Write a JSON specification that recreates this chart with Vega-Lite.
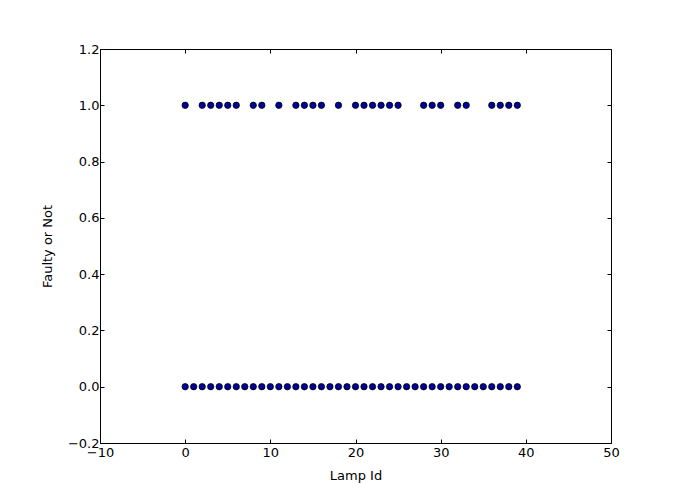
{
  "$schema": "https://vega.github.io/schema/vega-lite/v6.json",
  "width": 511,
  "height": 394,
  "autosize": {"type": "none"},
  "padding": {"left": 100, "top": 49, "right": 84, "bottom": 51},
  "background": "white",
  "config": {
    "font": "DejaVu Sans",
    "view": {"stroke": "black", "strokeWidth": 1},
    "axis": {
      "grid": false,
      "domain": false,
      "tickColor": "black",
      "tickSize": -4,
      "labelFlush": false,
      "labelOverlap": false,
      "labelFont": "DejaVu Sans",
      "labelFontSize": 13,
      "labelColor": "black",
      "titleFont": "DejaVu Sans",
      "titleFontSize": 13,
      "titleFontWeight": "normal",
      "titleColor": "black"
    }
  },
  "data": {
    "values": [
      {"id": 0, "faulty": 0}, {"id": 1, "faulty": 0}, {"id": 2, "faulty": 0}, {"id": 3, "faulty": 0},
      {"id": 4, "faulty": 0}, {"id": 5, "faulty": 0}, {"id": 6, "faulty": 0}, {"id": 7, "faulty": 0},
      {"id": 8, "faulty": 0}, {"id": 9, "faulty": 0}, {"id": 10, "faulty": 0}, {"id": 11, "faulty": 0},
      {"id": 12, "faulty": 0}, {"id": 13, "faulty": 0}, {"id": 14, "faulty": 0}, {"id": 15, "faulty": 0},
      {"id": 16, "faulty": 0}, {"id": 17, "faulty": 0}, {"id": 18, "faulty": 0}, {"id": 19, "faulty": 0},
      {"id": 20, "faulty": 0}, {"id": 21, "faulty": 0}, {"id": 22, "faulty": 0}, {"id": 23, "faulty": 0},
      {"id": 24, "faulty": 0}, {"id": 25, "faulty": 0}, {"id": 26, "faulty": 0}, {"id": 27, "faulty": 0},
      {"id": 28, "faulty": 0}, {"id": 29, "faulty": 0}, {"id": 30, "faulty": 0}, {"id": 31, "faulty": 0},
      {"id": 32, "faulty": 0}, {"id": 33, "faulty": 0}, {"id": 34, "faulty": 0}, {"id": 35, "faulty": 0},
      {"id": 36, "faulty": 0}, {"id": 37, "faulty": 0}, {"id": 38, "faulty": 0}, {"id": 39, "faulty": 0},
      {"id": 0, "faulty": 1}, {"id": 2, "faulty": 1}, {"id": 3, "faulty": 1}, {"id": 4, "faulty": 1},
      {"id": 5, "faulty": 1}, {"id": 6, "faulty": 1}, {"id": 8, "faulty": 1}, {"id": 9, "faulty": 1},
      {"id": 11, "faulty": 1}, {"id": 13, "faulty": 1}, {"id": 14, "faulty": 1}, {"id": 15, "faulty": 1},
      {"id": 16, "faulty": 1}, {"id": 18, "faulty": 1}, {"id": 20, "faulty": 1}, {"id": 21, "faulty": 1},
      {"id": 22, "faulty": 1}, {"id": 23, "faulty": 1}, {"id": 24, "faulty": 1}, {"id": 25, "faulty": 1},
      {"id": 28, "faulty": 1}, {"id": 29, "faulty": 1}, {"id": 30, "faulty": 1}, {"id": 32, "faulty": 1},
      {"id": 33, "faulty": 1}, {"id": 36, "faulty": 1}, {"id": 37, "faulty": 1}, {"id": 38, "faulty": 1},
      {"id": 39, "faulty": 1}
    ]
  },
  "layer": [
    {
      "mark": {"type": "point", "shape": "circle", "filled": true, "fill": "#00009a", "stroke": "black", "strokeWidth": 0.8, "opacity": 1, "size": 40},
      "encoding": {
        "x": {"field": "id", "type": "quantitative", "scale": {"domain": [-10, 50], "nice": false, "zero": false},
              "axis": {"title": "Lamp Id", "values": [-10, 0, 10, 20, 30, 40, 50], "format": "d", "labelPadding": 7, "titlePadding": 10, "labelExpr": "replace(datum.label, '-', '\u2212')"}},
        "y": {"field": "faulty", "type": "quantitative", "scale": {"domain": [-0.2, 1.2], "nice": false, "zero": false},
              "axis": {"title": "Faulty or Not", "values": [-0.2, 0, 0.2, 0.4, 0.6, 0.8, 1.0, 1.2], "format": ".1f", "labelPadding": 5, "titlePadding": 13, "labelExpr": "replace(datum.label, '-', '\u2212')"}}
      }
    },
    {
      "mark": {"type": "point", "opacity": 0},
      "encoding": {
        "x": {"field": "id", "type": "quantitative", "scale": {"domain": [-10, 50], "nice": false, "zero": false},
              "axis": {"orient": "top", "title": null, "labels": false, "values": [-10, 0, 10, 20, 30, 40, 50]}},
        "y": {"field": "faulty", "type": "quantitative", "scale": {"domain": [-0.2, 1.2], "nice": false, "zero": false},
              "axis": {"orient": "right", "title": null, "labels": false, "values": [-0.2, 0, 0.2, 0.4, 0.6, 0.8, 1.0, 1.2]}}
      }
    }
  ],
  "resolve": {"axis": {"x": "independent", "y": "independent"}}
}
